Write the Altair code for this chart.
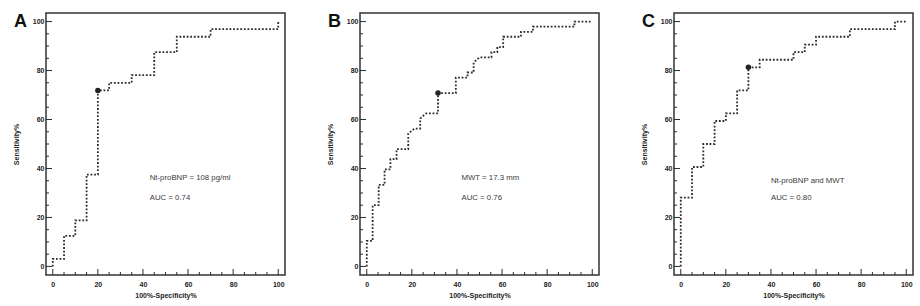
import altair as alt
import pandas as pd

# ---- data ----
A_fpr = [0, 0, 5, 5, 10, 10, 15, 15, 20, 20, 25, 25, 35, 35, 45, 45, 55, 55, 70, 70, 100, 100]
A_tpr = [0, 3.1, 3.1, 12.5, 12.5, 18.8, 18.8, 37.5, 37.5, 71.9, 71.9, 75, 75, 78.1, 78.1, 87.5, 87.5, 93.8, 93.8, 96.9, 96.9, 100]
A_cut = (20, 71.9)

B_fpr = [0, 0, 2.6, 2.6, 5.3, 5.3, 7.9, 7.9, 10.5, 10.5, 13.2, 13.2, 18.4, 18.4, 21.1, 23.7, 23.7, 26.3,
         31.6, 31.6, 39.5, 39.5, 44.7, 44.7, 47.4, 47.4, 50, 55.3, 55.3, 57.9, 57.9, 60.5, 60.5, 68.4, 68.4,
         73.7, 73.7, 92.1, 92.1, 100]
B_tpr = [0, 10.4, 10.4, 25, 25, 33.3, 33.3, 39.6, 39.6, 43.8, 43.8, 47.9, 47.9, 54.2, 56.3, 56.3, 60.4, 62.5,
         62.5, 70.8, 70.8, 77.1, 77.1, 79.2, 79.2, 83.3, 85.4, 85.4, 87.5, 87.5, 89.6, 89.6, 93.8, 93.8, 95.8,
         95.8, 97.9, 97.9, 100, 100]
B_cut = (31.6, 70.8)

C_fpr = [0, 0, 5, 5, 10, 10, 15, 15, 20, 20, 25, 25, 30, 30, 35, 35, 50, 50, 55, 55, 60, 60, 75, 75, 95, 95, 100]
C_tpr = [0, 28.1, 28.1, 40.6, 40.6, 50, 50, 59.4, 59.4, 62.5, 62.5, 71.9, 71.9, 81.3, 81.3, 84.4, 84.4, 87.5,
         87.5, 90.6, 90.6, 93.8, 93.8, 96.9, 96.9, 100, 100]
C_cut = (30, 81.3)

letters = ["A", "B", "C"]
notes1 = ["Nt-proBNP = 108 pg/ml", "MWT = 17.3 mm", "Nt-proBNP and MWT"]
notes2 = ["AUC = 0.74", "AUC = 0.76", "AUC = 0.80"]
note_x = [43, 42, 40]
note1_y = [36, 36, 35]
note2_y = [28, 28, 28]

major_ticks = [0, 20, 40, 60, 80, 100]
minor_ticks = [5, 10, 15, 25, 30, 35, 45, 50, 55, 65, 70, 75, 85, 90, 95]

FONT = "Liberation Sans"
INK = "#2b2b2b"
W, H = 239, 262

xs = alt.Scale(domain=[-3, 103], nice=False, zero=False)
ys = alt.Scale(domain=[-3.5, 103.5], nice=False, zero=False)


def panel(letter, fpr, tpr, cut, n1, n2, nx, n1y, n2y):
    curve = pd.DataFrame({"fpr": fpr, "tpr": tpr, "order": list(range(len(fpr)))})
    line = alt.Chart(curve).mark_line(
        color=INK, strokeWidth=1.8, strokeDash=[1.8, 1.8], strokeCap="butt"
    ).encode(
        x=alt.X("fpr:Q", scale=xs, title="100%-Specificity%",
                axis=alt.Axis(values=major_ticks, ticks=False, tickSize=0, domain=False, grid=False,
                              labelFont=FONT, labelFontSize=7, labelFontWeight="bold", labelColor="#222",
                              labelPadding=5, titleFont=FONT, titleFontSize=7, titleFontWeight="bold",
                              titleColor="#222", titlePadding=4)),
        y=alt.Y("tpr:Q", scale=ys, title="Sensitivity%",
                axis=alt.Axis(values=major_ticks, ticks=False, tickSize=0, domain=False, grid=False,
                              labelFont=FONT, labelFontSize=7, labelFontWeight="bold", labelColor="#222",
                              labelPadding=2, titleFont=FONT, titleFontSize=7, titleFontWeight="bold",
                              titleColor="#222", titlePadding=13)),
        order="order:Q",
    )
    pt = alt.Chart(pd.DataFrame({"fpr": [cut[0]], "tpr": [cut[1]]})).mark_circle(
        color="#222", opacity=1, size=30
    ).encode(x=alt.X("fpr:Q", scale=xs), y=alt.Y("tpr:Q", scale=ys))

    maj = pd.DataFrame({"v": major_ticks})
    mnr = pd.DataFrame({"v": minor_ticks})
    ytick_major = alt.Chart(maj).mark_rule(color=INK, strokeWidth=1).encode(
        y=alt.Y("v:Q", scale=ys), x=alt.value(0), x2=alt.value(6))
    ytick_minor = alt.Chart(mnr).mark_rule(color=INK, strokeWidth=1).encode(
        y=alt.Y("v:Q", scale=ys), x=alt.value(0), x2=alt.value(3))
    xtick_major = alt.Chart(maj).mark_rule(color=INK, strokeWidth=1).encode(
        x=alt.X("v:Q", scale=xs), y=alt.value(H), y2=alt.value(H - 6))
    xtick_minor = alt.Chart(mnr).mark_rule(color=INK, strokeWidth=1).encode(
        x=alt.X("v:Q", scale=xs), y=alt.value(H), y2=alt.value(H - 3))

    notes = pd.DataFrame({"x": [nx, nx], "y": [n1y, n2y], "t": [n1, n2]})
    note = alt.Chart(notes).mark_text(
        font=FONT, fontSize=7.8, color="#3a3a3a", align="left", baseline="middle"
    ).encode(x=alt.X("x:Q", scale=xs), y=alt.Y("y:Q", scale=ys), text="t:N")

    lab = alt.Chart(pd.DataFrame({"t": [letter]})).mark_text(
        font=FONT, fontSize=18, fontWeight="bold", color="#111", align="left", baseline="alphabetic"
    ).encode(x=alt.value(-32), y=alt.value(14), text="t:N")

    return alt.layer(line, ytick_major, ytick_minor, xtick_major, xtick_minor, note, pt, lab).properties(
        width=W, height=H)


charts = [
    panel(letters[0], A_fpr, A_tpr, A_cut, notes1[0], notes2[0], note_x[0], note1_y[0], note2_y[0]),
    panel(letters[1], B_fpr, B_tpr, B_cut, notes1[1], notes2[1], note_x[1], note1_y[1], note2_y[1]),
    panel(letters[2], C_fpr, C_tpr, C_cut, notes1[2], notes2[2], note_x[2], note1_y[2], note2_y[2]),
]

chart = alt.hconcat(*charts, spacing=75, bounds="flush").properties(
    padding={"left": 11, "top": 12, "right": 5, "bottom": 5},
    background="white",
).configure_view(stroke="#333", strokeWidth=1.5)

chart.save("out.html", embed_options={"renderer": "svg", "actions": False})
